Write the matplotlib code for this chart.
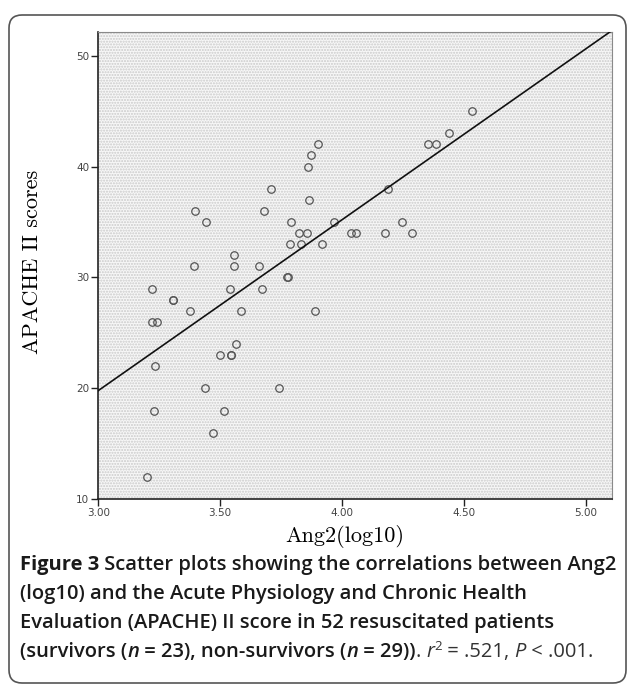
import numpy as np
import matplotlib
matplotlib.use('Agg')
import matplotlib.pyplot as plt
from matplotlib.patches import FancyBboxPatch, Rectangle

# values
ang2_log10 = [3.900, 4.354, 4.387, 4.532, 4.438, 3.871, 3.861, 3.710, 4.188, 3.864,
              3.396, 3.678, 3.442, 3.791, 3.966, 4.245,
              3.822, 3.857, 4.037, 4.057, 4.177, 4.286,
              3.788, 3.833, 3.920, 3.558, 3.392, 3.557, 3.659, 3.773, 3.780,
              3.220, 3.540, 3.672, 3.308, 3.308, 3.377, 3.585, 3.889, 3.220, 3.242,
              3.567, 3.501, 3.544, 3.544, 3.233, 3.436, 3.742, 3.229, 3.517, 3.471, 3.201]
apache_scores = [42, 42, 42, 45, 43, 41, 40, 38, 38, 37,
                 36, 36, 35, 35, 35, 35,
                 34, 34, 34, 34, 34, 34,
                 33, 33, 33, 32, 31, 31, 31, 30, 30,
                 29, 29, 29, 28, 28, 27, 27, 27, 26, 26,
                 24, 23, 23, 23, 22, 20, 20, 18, 18, 16, 12]

# fit line as drawn in the figure
fit_intercept = -26.4
fit_slope = 15.4
fit_x = [3.0, 5.11]

x_ticks = [3.0, 3.5, 4.0, 4.5, 5.0]
x_tick_labels = ['3.00', '3.50', '4.00', '4.50', '5.00']
y_ticks = [10, 20, 30, 40, 50]
y_tick_labels = ['10', '20', '30', '40', '50']

W, H = 628, 686
fig = plt.figure(figsize=(W / 100, H / 100), dpi=100)

# rounded frame around the whole figure
box = FancyBboxPatch((9 / 100, 3 / 100), 617 / 100, 668 / 100,
                     boxstyle='round,pad=0,rounding_size=0.13',
                     transform=fig.dpi_scale_trans, facecolor='none',
                     edgecolor='#555555', lw=1.2, zorder=-1)
fig.patches.append(box)

# axes placed in pixel units of the reference
left, right, top, bottom = 98.3, 612, 32.3, 499.3
ax = fig.add_axes([left / W, 1 - bottom / H, (right - left) / W, (bottom - top) / H])
ax.set_facecolor('white')
ax.add_patch(Rectangle((0, 0), 1, 1, transform=ax.transAxes, facecolor='#f7f7f7',
                       edgecolor='#cacaca', hatch='......', lw=0, zorder=0))

ax.plot(ang2_log10, apache_scores, 'o', ms=5.4, mfc='none', mec='#555555', mew=0.9, zorder=3)
fit_y = [fit_intercept + fit_slope * v for v in fit_x]
ax.plot(fit_x, fit_y, color='#111111', lw=1.2, zorder=4)

ax.set_xlim(3.0, 5.108)
ax.set_ylim(10, 52.1)
ax.set_xticks(x_ticks)
ax.set_xticklabels(x_tick_labels)
ax.set_yticks(y_ticks)
ax.set_yticklabels(y_tick_labels)
ax.tick_params(length=5, width=1, color='#222222', labelsize=7.5, labelcolor='#444444', pad=1.5)

for s in ['left', 'bottom']:
    ax.spines[s].set_color('#222222')
    ax.spines[s].set_linewidth(1.2)
for s in ['top', 'right']:
    ax.spines[s].set_color('#8a8a8a')
    ax.spines[s].set_linewidth(0.8)

fig.text(345 / W, 1 - 537 / H, 'Ang2(log10)', family='cmr10', fontsize=16,
         ha='center', va='center')
fig.text(32 / W, 1 - 262 / H, 'APACHE II scores', family='cmr10', fontsize=16,
         rotation=90, ha='center', va='center')

# caption with mixed styles
renderer = fig.canvas.get_renderer()
cap_size = 14.5


def text_width(txt, **kw):
    t1 = fig.text(0, 0, 'x' + txt + 'x', **kw)
    t2 = fig.text(0, 0, 'xx', **kw)
    w = t1.get_window_extent(renderer).width - t2.get_window_extent(renderer).width
    t1.remove()
    t2.remove()
    return w


def draw_line(x_px, y_px, runs):
    x = x_px
    for txt, kw in runs:
        kw = dict(kw)
        rise = kw.pop('rise', 0)
        style = dict(family='Open Sans', fontsize=cap_size, color='#1a1a1a')
        style.update(kw)
        fig.text(x / W, 1 - (y_px - rise) / H, txt, va='baseline', ha='left', **style)
        x += text_width(txt, **style)


sb = {'weight': 'semibold'}
sbi = {'weight': 'semibold', 'style': 'italic'}
rg = {'weight': 'normal', 'color': '#333333'}
it = {'weight': 'normal', 'style': 'italic', 'color': '#333333'}

lines = [
    [('Figure 3', {'weight': 'bold'}),
     (' Scatter plots showing the correlations between Ang2', sb)],
    [('(log10) and the Acute Physiology and Chronic Health', sb)],
    [('Evaluation (APACHE) II score in 52 resuscitated patients', sb)],
    [('(survivors (', sb), ('n', sbi), (' = 23), non-survivors (', sb), ('n', sbi),
     (' = 29))', sb), ('. ', rg), ('r', it),
     ('2', dict(rg, fontsize=cap_size * 0.65, rise=7)),
     (' = .521, ', rg), ('P', it), (' < .001.', rg)],
]
baselines = [570, 599, 628, 657]
for runs, yb in zip(lines, baselines):
    draw_line(20, yb, runs)

fig.savefig('out.png', dpi=100)
